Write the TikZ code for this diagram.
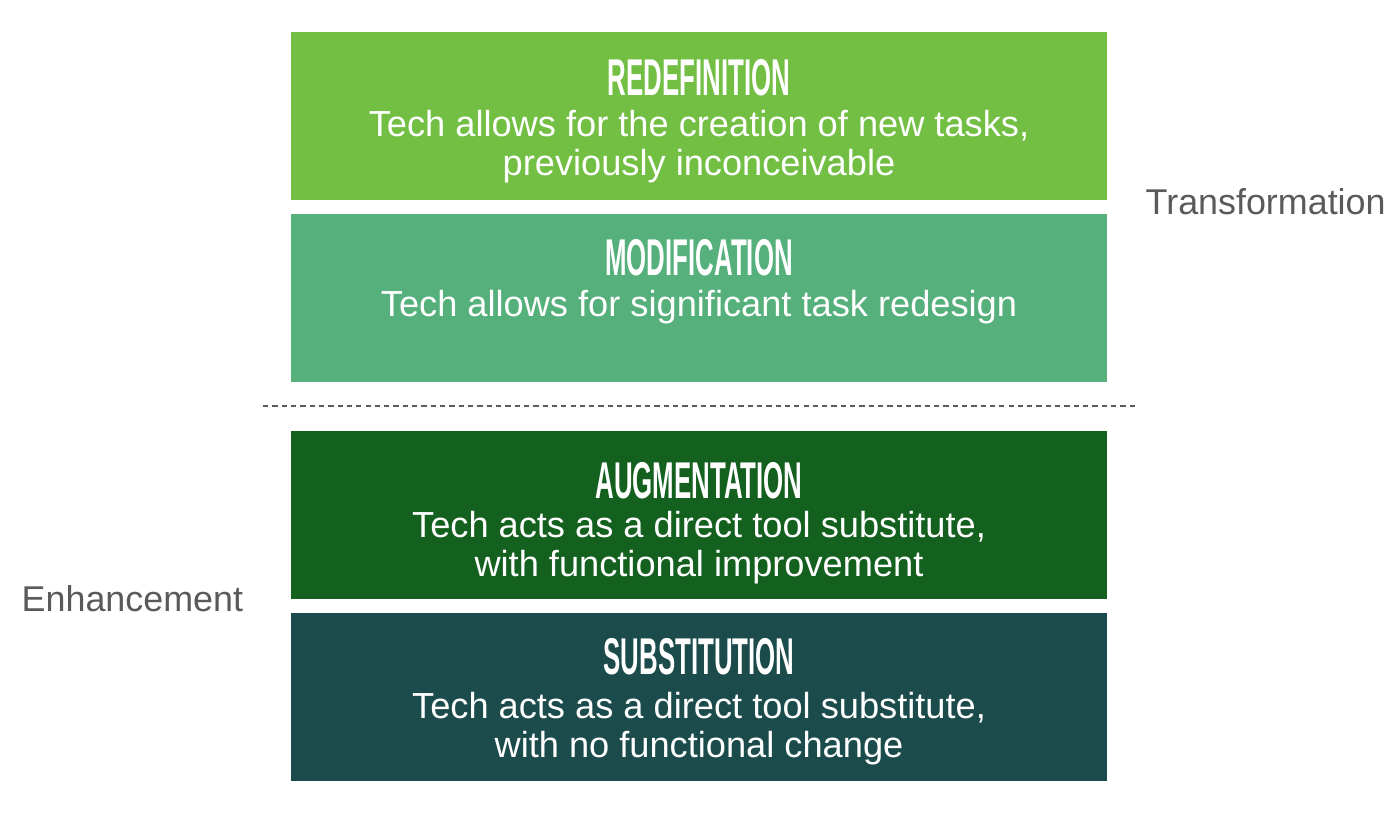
\documentclass[tikz,border=0pt]{standalone}
\usepackage{fontspec}
\setmainfont{Liberation Sans}
\usepackage{graphicx}
\definecolor{RedefGreen}{HTML}{72BF44}
\definecolor{ModifGreen}{HTML}{55B07C}
\definecolor{AugmGreen}{HTML}{14601F}
\definecolor{SubstTeal}{HTML}{1B4B4B}
\definecolor{SideGray}{HTML}{5A5A5A}
\tikzstyle{LevelBox}=[rectangle, inner sep=0pt, minimum width=8.16cm, minimum height=1.68cm]
\tikzstyle{TitleText}=[text=white, inner sep=0pt, anchor=base, font=\fontsize{14.7}{16}\selectfont\bfseries]
\tikzstyle{BodyText}=[text=white, inner sep=0pt, anchor=base, align=center, font=\fontsize{10.3}{11.1}\selectfont]
\tikzstyle{SideText}=[text=SideGray, inner sep=0pt, anchor=base west, font=\fontsize{10.2}{12}\selectfont]
\tikzstyle{SplitLine}=[SideGray, line width=0.7pt, dash pattern=on 1.5pt off 1.15pt]
\newcommand{\lvltitle}[1]{\scalebox{0.5}[1]{#1}}

\begin{document}
\begin{tikzpicture}[x=0.01cm, y=-0.01cm]
\useasboundingbox (0,0) rectangle (1400,819);

\node[LevelBox, fill=RedefGreen](REDEF) at (699,116) {};
\node[LevelBox, fill=ModifGreen](MODIF) at (699,298) {};
\node[LevelBox, fill=AugmGreen](AUGM) at (699,515) {};
\node[LevelBox, fill=SubstTeal](SUBST) at (699,697) {};

% two-line texts sit on the baseline of their last line
\node[TitleText](REDEFT) at (699,96) {\lvltitle{REDEFINITION}};
\node[BodyText](REDEFB) at (699,176) {Tech allows for the creation of new tasks,\\previously inconceivable};
\node[TitleText](MODIFT) at (699,276) {\lvltitle{MODIFICATION}};
\node[BodyText](MODIFB) at (699,317) {Tech allows for significant task redesign};
\node[TitleText](AUGMT) at (699,499) {\lvltitle{AUGMENTATION}};
\node[BodyText](AUGMB) at (699,577) {Tech acts as a direct tool substitute,\\with functional improvement};
\node[TitleText](SUBSTT) at (699,675) {\lvltitle{SUBSTITUTION}};
\node[BodyText](SUBSTB) at (699,758) {Tech acts as a direct tool substitute,\\with no functional change};

\node[SideText](TRANS) at (1145,215) {Transformation};
\node[SideText](ENHAN) at (21,612) {Enhancement};

\coordinate (SplitL) at (263,406);
\coordinate (SplitR) at (1135,406);
\draw[SplitLine](SplitL) -- (SplitR);
\end{tikzpicture}
\end{document}
